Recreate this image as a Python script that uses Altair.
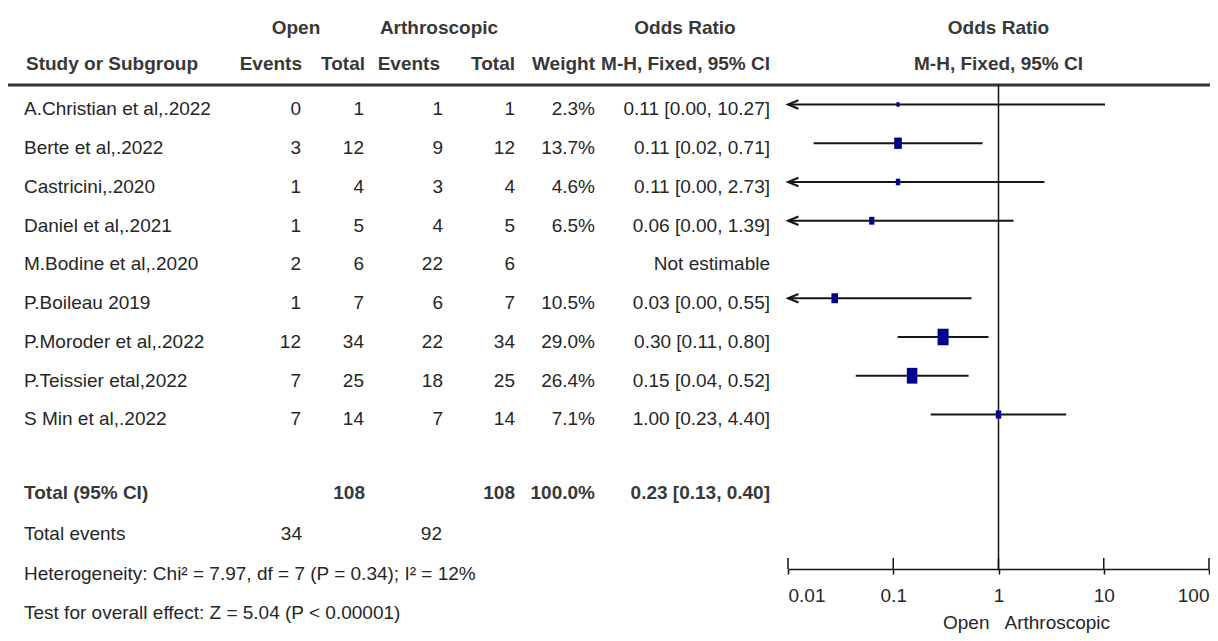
import altair as alt
import pandas as pd

# ---------------- data ----------------
studies = ["A.Christian et al,.2022", "Berte et al,.2022", "Castricini,.2020", "Daniel et al,.2021",
           "M.Bodine et al,.2020", "P.Boileau 2019", "P.Moroder et al,.2022", "P.Teissier etal,2022",
           "S Min et al,.2022"]
open_events = [0, 3, 1, 1, 2, 1, 12, 7, 7]
open_total = [1, 12, 4, 5, 6, 7, 34, 25, 14]
arth_events = [1, 9, 3, 4, 22, 6, 22, 18, 7]
arth_total = [1, 12, 4, 5, 6, 7, 34, 25, 14]
weights = [2.3, 13.7, 4.6, 6.5, None, 10.5, 29.0, 26.4, 7.1]
or_est = [0.111, 0.111, 0.111, 0.0625, None, 0.0278, 0.2975, 0.151, 1.00]
ci_low = [0.0012, 0.0175, 0.0045, 0.0028, None, 0.0014, 0.110, 0.044, 0.227]
ci_high = [10.27, 0.705, 2.73, 1.39, None, 0.555, 0.804, 0.52, 4.40]
or_text = ["0.11 [0.00, 10.27]", "0.11 [0.02, 0.71]", "0.11 [0.00, 2.73]", "0.06 [0.00, 1.39]",
           "Not estimable", "0.03 [0.00, 0.55]", "0.30 [0.11, 0.80]", "0.15 [0.04, 0.52]",
           "1.00 [0.23, 4.40]"]

total_label = "Total (95% CI)"
total_open_n = "108"
total_arth_n = "108"
total_weight = "100.0%"
total_or_text = "0.23 [0.13, 0.40]"
total_or = [0.13, 0.23, 0.40]          # lower, estimate, upper
total_events_label = "Total events"
total_open_events = "34"
total_arth_events = "92"
heterogeneity = "Heterogeneity: Chi\u00b2 = 7.97, df = 7 (P = 0.34); I\u00b2 = 12%"
overall_effect = "Test for overall effect: Z = 5.04 (P < 0.00001)"

axis_ticks = [0.01, 0.1, 1, 10, 100]
favours = ["Open", "Arthroscopic"]
group_headers = ["Open", "Arthroscopic", "Odds Ratio"]
col_headers = ["Study or Subgroup", "Events", "Total", "Events", "Total", "Weight", "M-H, Fixed, 95% CI"]
forest_headers = ["Odds Ratio", "M-H, Fixed, 95% CI"]

# ---------------- layout / style ----------------
FONT = "Liberation Sans"
FS = 19
DY = 5
BODY = "#262626"
HEAD = "#383838"
NAVY = "#000090"

# row positions (row units)
R_GROUP, R_COLS, R_LINE = -2.10, -1.18, -0.503
R_TOTAL, R_TEV, R_HET, R_TEST, R_FAV = 9.9, 10.95, 11.98, 13.0, 13.38
R_AXIS = 11.987

W, H = 1202, 561
yscale = alt.Scale(domain=[-2.490, R_AXIS], reverse=True, nice=False, zero=False)
xscale = alt.Scale(type="log", domain=[0.01, 100], range=[780, 1201], nice=False)
xaxis = alt.Axis(values=axis_ticks, format="~g", grid=False, title=None,
                 domainColor="#111", domainWidth=1.5, tickColor="#111", tickWidth=1.5, tickSize=5,
                 labelFont=FONT, labelFontSize=FS, labelColor=BODY, labelFlush=True,
                 labelBaseline="middle", labelPadding=21, labelOverlap=False)

rows = list(range(len(studies)))
table = pd.DataFrame({
    "row": rows,
    "study": studies,
    "oe": [str(v) for v in open_events],
    "ot": [str(v) for v in open_total],
    "ae": [str(v) for v in arth_events],
    "at": [str(v) for v in arth_total],
    "w": ["" if w is None else f"{w:.1f}%" for w in weights],
    "ortxt": or_text,
})


def txt(df, field, x, align="right", bold=False, color=BODY, dy=DY):
    return alt.Chart(df).mark_text(
        align=align, baseline="middle", font=FONT, fontSize=FS,
        fontWeight="bold" if bold else "normal", color=color, dy=dy
    ).encode(x=alt.value(x), y=alt.Y("row:Q", scale=yscale, axis=None), text=alt.Text(f"{field}:N"))


def label(s, row, x, align="right", bold=False, color=BODY):
    return txt(pd.DataFrame({"row": [row], "t": [s]}), "t", x, align, bold, color)


layers = []
# table columns
COLX = {"study": 16, "oe": 293, "ot": 356, "ae": 435, "at": 507, "w": 587, "ortxt": 762}
layers.append(txt(table, "study", COLX["study"], "left"))
for c in ["oe", "ot", "ae", "at", "w", "ortxt"]:
    layers.append(txt(table, c, COLX[c]))

# headers
layers.append(label(group_headers[0], R_GROUP, 288, "center", True, HEAD))
layers.append(label(group_headers[1], R_GROUP, 431, "center", True, HEAD))
layers.append(label(group_headers[2], R_GROUP, 677, "center", True, HEAD))
layers.append(label(col_headers[0], R_COLS, 18, "left", True, HEAD))
for s, x in zip(col_headers[1:], [294, 357, 432, 507, 587, 762]):
    layers.append(label(s, R_COLS, x, "right", True, HEAD))

# totals and footers
layers.append(label(total_label, R_TOTAL, 16, "left", True, HEAD))
layers.append(label(total_open_n, R_TOTAL, 357, "right", True, HEAD))
layers.append(label(total_arth_n, R_TOTAL, 507, "right", True, HEAD))
layers.append(label(total_weight, R_TOTAL, 587, "right", True, HEAD))
layers.append(label(total_or_text, R_TOTAL, 762, "right", True, HEAD))
layers.append(label(total_events_label, R_TEV, 16, "left"))
layers.append(label(total_open_events, R_TEV, 294, "right"))
layers.append(label(total_arth_events, R_TEV, 434, "right"))
layers.append(label(heterogeneity, R_HET, 16, "left"))
layers.append(label(overall_effect, R_TEST, 16, "left"))

# header rule
hline = pd.DataFrame({"row": [R_LINE]})
layers.append(alt.Chart(hline).mark_rule(color="#333", strokeWidth=3).encode(
    x=alt.value(0), x2=alt.value(W), y=alt.Y("row:Q", scale=yscale, axis=None)))

# forest data
fd = pd.DataFrame({"row": rows, "est": or_est, "lo": ci_low, "hi": ci_high, "w": weights}).dropna()
fd["lo_c"] = fd["lo"].clip(lower=0.01)
arrows = fd[fd["lo"] < 0.01]

X = lambda f: alt.X(f, scale=xscale, axis=xaxis)
Y = lambda f: alt.Y(f, scale=yscale, axis=None)

# null line
null_df = pd.DataFrame({"x": [1], "y1": [R_LINE], "y2": [R_AXIS]})
layers.append(alt.Chart(null_df).mark_rule(color="#111", strokeWidth=1.5).encode(
    x=X("x:Q"), y=Y("y1:Q"), y2="y2:Q"))

# CI lines
layers.append(alt.Chart(fd).mark_rule(color="#161616", strokeWidth=2).encode(
    x=X("lo_c:Q"), x2="hi:Q", y=Y("row:Q")))
# arrows for truncated lower limits
layers.append(alt.Chart(arrows).mark_point(
    shape="M2.2,-0.9L0,0L2.2,0.9", filled=False, strokeWidth=2, color="#161616", size=90, opacity=1
).encode(x=X("lo_c:Q"), y=Y("row:Q")))
# weight squares
layers.append(alt.Chart(fd).mark_point(
    shape="M-0.8,-1.2L0.8,-1.2L0.8,1.2L-0.8,1.2Z", filled=True, color=NAVY, opacity=1
).encode(x=X("est:Q"), y=Y("row:Q"),
         size=alt.Size("w:Q", scale=alt.Scale(domain=[0, 29], range=[0, 190]), legend=None)))

# diamond
dh = 0.44
dia = pd.DataFrame({"x": total_or, "y1": [R_TOTAL, R_TOTAL - dh, R_TOTAL],
                    "y2": [R_TOTAL, R_TOTAL + dh, R_TOTAL]})
layers.append(alt.Chart(dia).mark_area(color="black", opacity=1).encode(
    x=X("x:Q"), y=Y("y1:Q"), y2="y2:Q", order="x:Q"))

# upward tick parts
tk = pd.DataFrame({"t": axis_ticks})
layers.append(alt.Chart(tk).mark_rule(color="#111", strokeWidth=1.5).encode(
    x=X("t:Q"), y=alt.value(H - 11), y2=alt.value(H)))

# forest headers centered on OR = 1
fh = pd.DataFrame({"x": [1, 1], "row": [R_GROUP, R_COLS], "t": forest_headers})
layers.append(alt.Chart(fh).mark_text(align="center", baseline="middle", font=FONT, fontSize=FS,
                                      fontWeight="bold", color=HEAD, dy=DY).encode(
    x=X("x:Q"), y=Y("row:Q"), text="t:N"))

# favours labels
fav = pd.DataFrame({"x": [1], "row": [R_FAV], "a": [favours[0]], "b": [favours[1]]})
layers.append(alt.Chart(fav).mark_text(align="right", baseline="middle", font=FONT, fontSize=FS,
                                       color=BODY, dx=-9).encode(x=X("x:Q"), y=Y("row:Q"), text="a:N"))
layers.append(alt.Chart(fav).mark_text(align="left", baseline="middle", font=FONT, fontSize=FS,
                                       color=BODY, dx=6).encode(x=X("x:Q"), y=Y("row:Q"), text="b:N"))

chart = alt.layer(*layers).properties(
    width=W, height=H, autosize="none",
    padding={"left": 0, "top": 0, "right": 0, "bottom": 64},
    background="white",
).configure_view(stroke=None)

chart.save("out.html", embed_options={"renderer": "svg", "actions": False})
